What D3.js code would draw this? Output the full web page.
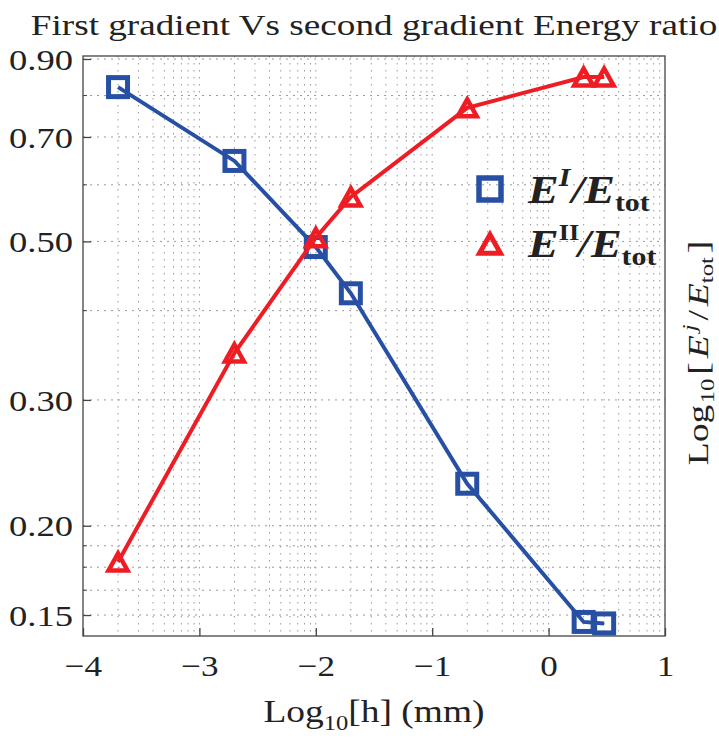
<!DOCTYPE html>
<html><head><meta charset="utf-8">
<script src="https://cdn.jsdelivr.net/npm/d3@7"></script>
<style>
body{margin:0;background:#fff}
svg{display:block}
text{font-family:"Liberation Serif","Times New Roman",serif;fill:#222}
</style>
</head><body>
<svg id="c" width="719" height="738"></svg>
<script>
// ---- data ----
const hValues = [0.0002, 0.002, 0.01, 0.02, 0.2, 2, 3];           // h in mm (x axis shows Log10[h])
const ratioFirst = [0.822, 0.648, 0.491, 0.423, 0.229, 0.1467, 0.146];  // E^I/E_tot
const ratioSecond = [0.178, 0.349, 0.506, 0.577, 0.769, 0.849, 0.849];  // E^II/E_tot
const xTickValues = [1e-4, 1e-3, 1e-2, 1e-1, 1, 10];
const xTickLabels = ["\u22124", "\u22123", "\u22122", "\u22121", "0", "1"];
const yTickValues = [0.15, 0.2, 0.3, 0.5, 0.7, 0.9];
const yTickLabels = ["0.15", "0.20", "0.30", "0.50", "0.70", "0.90"];
const yMinorValues = [0.1625, 0.175, 0.1875, 0.4, 0.6, 0.8];
const titleText = "First gradient Vs second gradient Energy ratio";

// ---- layout ----
const L = 83, R = 665, T = 56, B = 636;
const SX = 1.17;
const BLUE = "#2750a5", RED = "#ee1d24";
const svg = d3.select("#c");
const x = d3.scaleLog().domain([1e-4, 10]).range([L, R]);
const y = d3.scaleLog().domain([0.1402, 0.9087]).range([B, T]);

// grid
const gx = x.ticks().filter(v => x(v) > L + 1 && x(v) < R - 1);
svg.append("g").selectAll("line").data(gx).join("line")
  .attr("x1", d => x(d)).attr("x2", d => x(d)).attr("y1", T).attr("y2", B)
  .attr("stroke", "#999").attr("stroke-width", 1).attr("stroke-dasharray", "1.5,5.5");
const gy = yTickValues.concat(yMinorValues);
svg.append("g").selectAll("line").data(gy).join("line")
  .attr("y1", d => y(d)).attr("y2", d => y(d)).attr("x1", L).attr("x2", R)
  .attr("stroke", "#999").attr("stroke-width", 1).attr("stroke-dasharray", "2,5");

// frame
svg.append("rect").attr("x", L).attr("y", T).attr("width", R - L).attr("height", B - T)
  .attr("fill", "none").attr("stroke", "#444").attr("stroke-width", 1.3);

// x axis
const xAxisG = svg.append("g").attr("transform", `translate(0,${B})`)
  .call(d3.axisBottom(x).tickValues(xTickValues).tickFormat((d, i) => xTickLabels[i])
    .tickSizeInner(-8).tickSizeOuter(0));
xAxisG.select(".domain").remove();
xAxisG.selectAll("line").attr("stroke", "#444").attr("stroke-width", 1.3);
xAxisG.selectAll("text").attr("y", null).attr("dy", null)
  .attr("transform", `translate(0,40) scale(${SX},1)`)
  .style("font-size", "30px").style("font-family", '"Liberation Serif",serif').attr("fill", "#222");

// y axis
const yAxisG = svg.append("g").attr("transform", `translate(${L},0)`)
  .call(d3.axisLeft(y).tickValues(yTickValues).tickFormat((d, i) => yTickLabels[i])
    .tickSizeInner(-8).tickSizeOuter(0));
yAxisG.select(".domain").remove();
yAxisG.selectAll("line").attr("stroke", "#444").attr("stroke-width", 1.3);
yAxisG.selectAll("text").attr("x", null).attr("dy", "0.34em")
  .attr("transform", `translate(-10,0) scale(1.22,1)`)
  .style("font-size", "30px").style("font-family", '"Liberation Serif",serif').attr("fill", "#222");
svg.append("g").selectAll("line").data(yMinorValues).join("line")
  .attr("x1", L).attr("x2", L + 4).attr("y1", d => y(d)).attr("y2", d => y(d))
  .attr("stroke", "#444").attr("stroke-width", 1);

// series
const s1 = hValues.map((h, i) => ({ h, v: ratioFirst[i] }));
const s2 = hValues.map((h, i) => ({ h, v: ratioSecond[i] }));
const line = d3.line().x(d => x(d.h)).y(d => y(d.v));

const tri = (s) => `M0,${-8.5 * s}L${9.5 * s},${8.5 * s}L${-9.5 * s},${8.5 * s}Z`;

svg.append("path").datum(s1).attr("d", line).attr("fill", "none")
  .attr("stroke", BLUE).attr("stroke-width", 4);
svg.append("g").selectAll("rect").data(s1).join("rect")
  .attr("x", d => x(d.h) - 9.5).attr("y", d => y(d.v) - 9.5)
  .attr("width", 19).attr("height", 19)
  .attr("fill", "none").attr("stroke", BLUE).attr("stroke-width", 5);

svg.append("path").datum(s2).attr("d", line).attr("fill", "none")
  .attr("stroke", RED).attr("stroke-width", 4);
svg.append("g").selectAll("path").data(s2).join("path")
  .attr("d", tri(1)).attr("transform", d => `translate(${x(d.h)},${y(d.v)})`)
  .attr("fill", "none").attr("stroke", RED).attr("stroke-width", 4.5).attr("stroke-linejoin", "miter");

// legend
svg.append("rect").attr("x", 490 - 11).attr("y", 189 - 11).attr("width", 22).attr("height", 22)
  .attr("fill", "none").attr("stroke", BLUE).attr("stroke-width", 5.5);
svg.append("path").attr("d", tri(1.1)).attr("transform", "translate(490,244)")
  .attr("fill", "none").attr("stroke", RED).attr("stroke-width", 5);

function legendText(yb, sup, supItalic, supSize) {
  const t = svg.append("text").attr("transform", `translate(528,${yb}) scale(1.15,1)`)
    .style("font-size", "40px").style("font-weight", "bold");
  t.append("tspan").style("font-style", "italic").text("E");
  t.append("tspan").style("font-style", supItalic ? "italic" : "normal").style("font-size", supSize + "px")
    .attr("dy", -17).text(sup);
  t.append("tspan").style("font-style", "italic").attr("dy", 17).attr("dx", supItalic ? 1 : -1).text("/E");
  t.append("tspan").style("font-size", "26px").attr("dy", 8).text("tot");
}
legendText(203, "I", true, 26);
legendText(257, "II", false, 23);

// title
svg.append("text").attr("transform", `translate(374,35) scale(1.24,1)`)
  .attr("text-anchor", "middle").style("font-size", "30px").text(titleText);

// x label
const xl = svg.append("text").attr("transform", `translate(374,722) scale(${SX},1)`)
  .attr("text-anchor", "middle").style("font-size", "32px");
xl.append("tspan").text("Log");
xl.append("tspan").style("font-size", "21px").attr("dy", 8).text("10");
xl.append("tspan").attr("dy", -8).text("[h] (mm)");

// right y label
const yl = svg.append("text").attr("transform", `translate(708,353) rotate(-90) scale(1.3,1)`)
  .attr("text-anchor", "middle").style("font-size", "29px");
yl.append("tspan").text("Log");
yl.append("tspan").style("font-size", "19px").attr("dy", 6).attr("dx", 1).text("10");
yl.append("tspan").attr("dy", -6).attr("dx", 3).text("[");
yl.append("tspan").style("font-style", "italic").attr("dx", 3).text("E");
yl.append("tspan").style("font-style", "italic").style("font-size", "19px").attr("dy", -12).attr("dx", 3).text("j");
yl.append("tspan").attr("dy", 12).attr("dx", 3).text("/");
yl.append("tspan").style("font-style", "italic").attr("dx", 3).text("E");
yl.append("tspan").style("font-size", "19px").attr("dy", 5).text("tot");
yl.append("tspan").attr("dy", -5).attr("dx", 3).text("]");
</script>
</body></html>
